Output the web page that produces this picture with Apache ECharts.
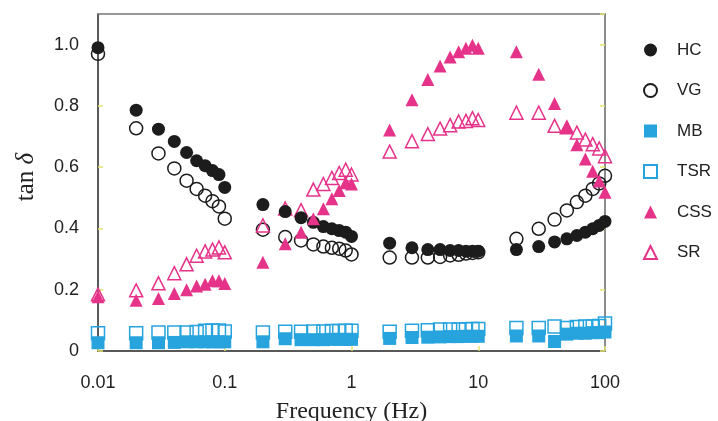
<!DOCTYPE html>
<html><head><meta charset="utf-8">
<script src="https://cdn.jsdelivr.net/npm/echarts@6/dist/echarts.min.js"></script>
<style>html,body{margin:0;padding:0;background:#fff}#c{width:718px;height:421px}</style>
</head><body><div id="c"></div>
<script>
const freqs = [0.01,0.02,0.03,0.04,0.05,0.06,0.07,0.08,0.09,0.1,
  0.2,0.3,0.4,0.5,0.6,0.7,0.8,0.9,1,
  2,3,4,5,6,7,8,9,10,
  20,30,40,50,60,70,80,90,100];
const hc = [0.99,0.786,0.724,0.684,0.648,0.621,0.605,0.589,0.576,0.534,
  0.478,0.455,0.435,0.42,0.406,0.399,0.393,0.388,0.374,
  0.352,0.337,0.331,0.331,0.328,0.328,0.326,0.326,0.326,
  0.331,0.341,0.356,0.366,0.377,0.388,0.399,0.41,0.423];
const vg = [0.97,0.727,0.645,0.596,0.556,0.529,0.507,0.489,0.472,0.432,
  0.396,0.372,0.361,0.348,0.341,0.337,0.334,0.328,0.315,
  0.305,0.305,0.305,0.307,0.312,0.314,0.318,0.32,0.322,
  0.366,0.399,0.429,0.459,0.486,0.507,0.529,0.547,0.572];
const mb = [0.027,0.027,0.027,0.028,0.03,0.03,0.03,0.03,0.03,0.03,
  0.03,0.04,0.037,0.037,0.037,0.038,0.038,0.038,0.038,
  0.041,0.044,0.045,0.046,0.047,0.047,0.048,0.048,0.048,
  0.049,0.049,0.031,0.055,0.058,0.058,0.06,0.06,0.062];
const tsr = [0.058,0.058,0.06,0.06,0.06,0.062,0.066,0.067,0.067,0.064,
  0.06,0.063,0.063,0.064,0.064,0.065,0.065,0.066,0.066,
  0.063,0.066,0.068,0.07,0.07,0.07,0.071,0.072,0.072,
  0.075,0.075,0.08,0.075,0.078,0.08,0.08,0.082,0.09];
const css = [0.177,0.166,0.171,0.188,0.2,0.212,0.218,0.229,0.229,0.22,
  0.29,0.35,0.388,0.432,0.464,0.497,0.524,0.549,0.545,
  0.721,0.82,0.886,0.93,0.96,0.977,0.988,0.998,0.988,
  0.977,0.903,0.808,0.73,0.673,0.627,0.587,0.555,0.518];
const sr = [0.185,0.198,0.221,0.254,0.283,0.311,0.325,0.331,0.338,0.322,
  0.41,0.465,0.46,0.527,0.545,0.565,0.581,0.592,0.576,
  0.651,0.685,0.708,0.726,0.737,0.749,0.751,0.76,0.754,
  0.778,0.778,0.735,0.73,0.713,0.69,0.675,0.661,0.636];
const seriesNames = ['HC','VG','MB','TSR','CSS','SR'];
const xTickLabels = ['0.01','0.1','1','10','100'];

const BLACK = '#1c1c1c', BLUE = '#27a4dd', PINK = '#e6338a', TICK = '#e3e36a';
const pair = ys => freqs.map((f, i) => [f, ys[i]]);
const SANS = '"Liberation Sans", Arial, sans-serif';
const SERIF = '"Liberation Serif", "Times New Roman", serif';

function mk(name, data, symbol, filled, color, z) {
  return {
    name, type: 'scatter', data: pair(data), symbol, symbolSize: 13, z,
    itemStyle: filled ? { color: color, borderColor: color, borderWidth: 0, opacity: 1 }
                      : { color: 'rgba(255,255,255,0)', borderColor: color, borderWidth: 1.5, opacity: 1 },
    emphasis: { disabled: true }
  };
}

const chart = echarts.init(document.getElementById('c'), null, { renderer: 'canvas' });
chart.setOption({
  animation: false,
  backgroundColor: '#fff',
  grid: { left: 98, right: 113, top: 14, bottom: 70, containLabel: false, outerBoundsMode: 'none' },
  legend: {
    orient: 'vertical', left: 638, top: 35,
    data: seriesNames,
    itemWidth: 13, itemHeight: 13, itemGap: 20.5,
    textStyle: { fontFamily: SANS, fontSize: 17, color: '#222', lineHeight: 20, padding: [0, 0, 0, 15] },
    selectedMode: false
  },
  xAxis: [{
    type: 'log', logBase: 10, min: 0.01, max: 100, position: 'bottom',
    name: 'Frequency (Hz)', nameLocation: 'middle', nameGap: 49,
    nameTextStyle: { fontFamily: SERIF, fontSize: 24, color: '#222' },
    axisLine: { onZero: false, lineStyle: { color: '#222', width: 1.5 } },
    axisTick: { inside: true, length: 5, lineStyle: { color: TICK, width: 1.5 } },
    minorTick: { show: false },
    splitLine: { show: false },
    axisLabel: { margin: 23, fontFamily: SANS, fontSize: 18, color: '#222',
      formatter: v => xTickLabels[Math.round(Math.log10(v)) + 2] }
  }, {
    type: 'log', logBase: 10, min: 0.01, max: 100, position: 'top',
    axisLine: { show: true, onZero: false, lineStyle: { color: '#777', width: 1.5 } },
    axisTick: { show: false }, axisLabel: { show: false }, splitLine: { show: false }
  }],
  yAxis: [{
    type: 'value', min: 0, max: 1.1, interval: 0.2, position: 'left',
    name: 'tan {i|δ}', nameLocation: 'middle', nameGap: 59, nameRotate: 90,
    nameTextStyle: { fontFamily: SERIF, fontSize: 25, color: '#222', padding: [0, 0, 0, 11],
      rich: { i: { fontFamily: SERIF, fontSize: 25, fontStyle: 'italic', color: '#222' } } },
    axisLine: { show: true, onZero: false, lineStyle: { color: '#222', width: 1.5 } },
    axisTick: { inside: true, length: 5, lineStyle: { color: TICK, width: 1.5 } },
    splitLine: { show: false },
    axisLabel: { margin: 19, fontFamily: SANS, fontSize: 18, color: '#222', showMaxLabel: false,
      formatter: v => v === 0 ? '0' : v.toFixed(1) }
  }, {
    type: 'value', min: 0, max: 1.1, interval: 0.2, position: 'right',
    axisLine: { show: true, onZero: false, lineStyle: { color: '#666', width: 1.5 } },
    axisTick: { inside: true, length: 5, lineStyle: { color: TICK, width: 1.5 } },
    axisLabel: { show: false }, splitLine: { show: false }
  }],
  series: [
    mk('VG', vg, 'circle', false, BLACK, 2),
    mk('TSR', tsr, 'rect', false, BLUE, 2),
    mk('SR', sr, 'triangle', false, PINK, 2),
    mk('HC', hc, 'circle', true, BLACK, 3),
    mk('MB', mb, 'rect', true, BLUE, 3),
    mk('CSS', css, 'triangle', true, PINK, 3)
  ]
});
</script></body></html>
